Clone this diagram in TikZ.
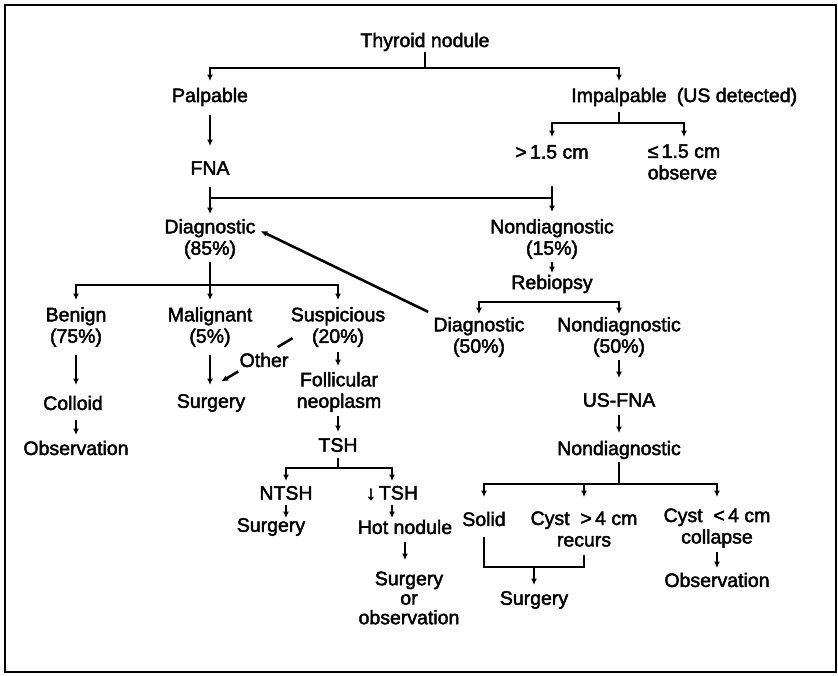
\documentclass[tikz,border=0pt]{standalone}
\usepackage{fontspec}
\newfontfamily\dfont{Liberation Sans}[FakeBold=2.2]
\usetikzlibrary{arrows.meta}
\begin{document}
\begin{tikzpicture}[x=1pt,y=-1pt,line width=2.6pt,
  lbl/.style={font=\dfont\fontsize{19.5}{21.5}\selectfont,inner sep=0pt,align=center},
  arr/.style={-{Latex[length=6.5pt,width=6pt]}},
  br/.style={{Latex[length=6.5pt,width=6pt]}-{Latex[length=6.5pt,width=6pt]}}]
\useasboundingbox (0,0) rectangle (838,675);
\draw[line width=2.4pt] (5,5) rectangle (836,672);
% nodes
\node[lbl] (thy) at (425,42) {Thyroid nodule};
\node[lbl] (pal) at (210,97) {Palpable};
\node[lbl] (imp) at (619,97) {Impalpable};
\node[lbl] (usd) at (737,97) {(US detected)};
\node[lbl] (gt) at (552,152) {>\,1.5 cm};
\node[lbl,align=left] (le) at (684,162) {≤\,1.5 cm\\observe};
\node[lbl] (fna) at (210,168) {FNA};
\node[lbl] (diag) at (210,239) {Diagnostic\\(85\%)};
\node[lbl] (nd) at (552,239) {Nondiagnostic\\(15\%)};
\node[lbl] (reb) at (552,284) {Rebiopsy};
\node[lbl] (d50) at (479,337) {Diagnostic\\(50\%)};
\node[lbl] (n50) at (619,337) {Nondiagnostic\\(50\%)};
\node[lbl] (usfna) at (619,400) {US-FNA};
\node[lbl] (nd2) at (619,450) {Nondiagnostic};
\node[lbl] (solid) at (484,519) {Solid};
\node[lbl] (cyg) at (584,529) {Cyst\ \ >\,4 cm\\recurs};
\node[lbl] (cyl) at (717,528) {Cyst\ \ <\,4 cm\\collapse};
\node[lbl] (obs2) at (717,580) {Observation};
\node[lbl] (surg3) at (534,600) {Surgery};
\node[lbl] (ben) at (76,327) {Benign\\(75\%)};
\node[lbl] (mal) at (210,327) {Malignant\\(5\%)};
\node[lbl] (sus) at (338,327) {Suspicious\\(20\%)};
\node[lbl] (col) at (73,403) {Colloid};
\node[lbl] (obs1) at (76,448) {Observation};
\node[lbl] (surg1) at (211,403) {Surgery};
\node[lbl] (oth) at (264,360) {Other};
\node[lbl] (fol) at (339,392) {Follicular\\neoplasm};
\node[lbl] (tsh) at (338,445) {TSH};
\node[lbl] (ntsh) at (286,493) {NTSH};
\node[lbl] (ltsh) at (392,493) {↓\,TSH};
\node[lbl] (surg2) at (271,527) {Surgery};
\node[lbl] (hot) at (405,527) {Hot nodule};
\node[lbl,font=\dfont\fontsize{19.5}{19.5}\selectfont] (sor) at (409,598) {Surgery\\or\\observation};
% connectors
\draw (thy.south) -- (thy|-0,68);
\draw[br] (pal|-0,81) |- (thy|-0,68) -| (imp|-0,81);
\draw[arr] (pal|-0,115) -- (fna|-0,146);
\draw (imp|-0,112) -- (imp|-0,123);
\draw[br] (gt|-0,137) |- (imp|-0,123) -| (le|-0,137);
\draw[arr] (fna|-0,187) -- (diag|-0,214);
\draw[arr] (gt|-0,186) -- (nd|-0,212);
\draw (fna|-0,198) -- (gt|-0,198);
\draw[arr] ([xshift=-4pt,yshift=4pt]d50.north west) -- ([xshift=4pt,yshift=8pt]diag.east);
\draw[arr] (nd|-0,262) -- (reb|-0,273);
\draw[br] (d50|-0,314) -- (d50|-0,302) -- (n50|-0,302) -- (n50|-0,314);
\draw[arr] (n50|-0,360) -- (usfna|-0,378);
\draw[arr] (usfna|-0,415) -- (nd2|-0,433);
\draw (nd2|-0,462) -- (nd2|-0,484);
\draw[br] (solid|-0,497) |- (nd2|-0,484) -| (cyl|-0,497);
\draw[arr] (cyg|-0,484) -- (cyg|-0,497);
\draw (solid|-0,537) |- (surg3|-0,567) -| (cyg|-0,555);
\draw[arr] (surg3|-0,567) -- (surg3|-0,585);
\draw[arr] (cyl|-0,552) -- (obs2|-0,568);
\draw (diag|-0,262) -- (diag|-0,285);
\draw[br] (ben|-0,300) |- (diag|-0,285) -| (sus|-0,300);
\draw[arr] (mal|-0,285) -- (mal|-0,300);
\draw[arr] (ben|-0,355) -- (ben|-0,385);
\draw[arr] (ben|-0,420) -- (ben|-0,435);
\draw[arr] (mal|-0,355) -- (mal|-0,385);
\draw[arr] (sus|-0,352) -- (sus|-0,366);
\draw[arr] (sus|-0,416) -- (sus|-0,432);
\draw (sus.south west) ++(3,-10) -- ++(-15,9);
\draw[arr] (oth.south west) ++(0,3) -- ++(-17,10);
\draw (tsh|-0,458) -- (tsh|-0,468);
\draw[br] (ntsh|-0,481) |- (tsh|-0,468) -| (ltsh|-0,481);
\draw[arr] (ntsh|-0,505) -- (ntsh|-0,518);
\draw[arr] (ltsh|-0,505) -- (ltsh|-0,518);
\draw[arr] (hot|-0,542) -- (hot|-0,560);
\end{tikzpicture}
\end{document}
